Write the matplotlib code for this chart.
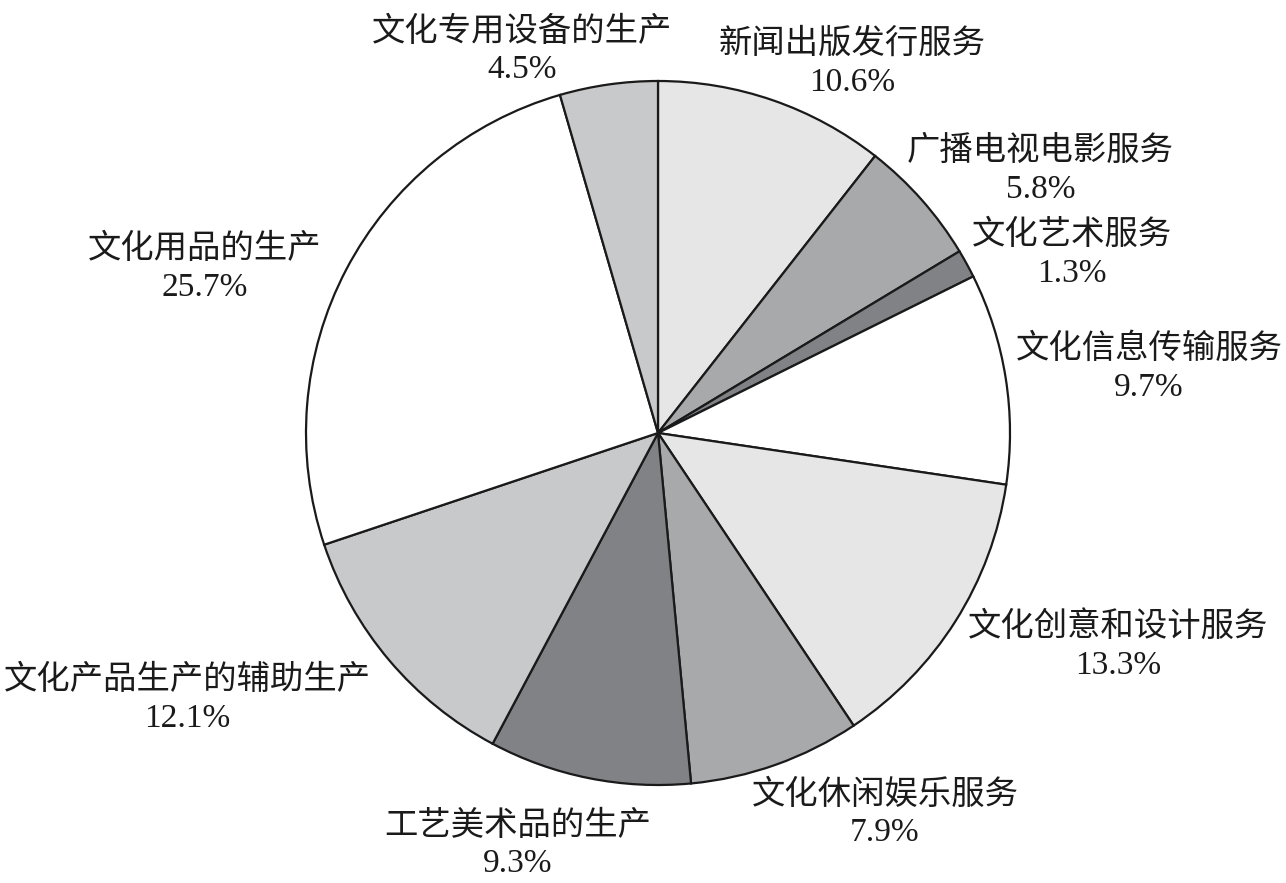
import numpy as np
import matplotlib
matplotlib.use("Agg")
import matplotlib.pyplot as plt

plt.rcParams['font.family'] = ['Liberation Serif', 'Noto Sans CJK SC', 'DejaVu Sans']

labels = ["新闻出版发行服务", "广播电视电影服务", "文化艺术服务", "文化信息传输服务",
          "文化创意和设计服务", "文化休闲娱乐服务", "工艺美术品的生产",
          "文化产品生产的辅助生产", "文化用品的生产", "文化专用设备的生产"]
shares = [10.6, 5.8, 1.3, 9.7, 13.3, 7.9, 9.3, 12.1, 25.7, 4.5]
colors = ["#e6e6e7", "#a8a9ab", "#808285", "#ffffff", "#e6e6e7",
          "#a8a9ab", "#808285", "#c8c9cb", "#ffffff", "#c8c9cb"]

# label placement: radius (in pie radii) and angle shift from slice middle (deg)
lab_r = [1.187, 1.318, 1.28, 1.407, 1.44, 1.26, 1.236, 1.536, 1.37, 1.152]
lab_dt = [-8.7, -7.0, -5.4, -1.45, 7.5, 11.2, -7.5, -10.7, 7.7, 11.5]

W, H = 1286, 883
cx, cy, R = 658, 433, 352

fig = plt.figure(figsize=(W / 100, H / 100), dpi=100)
ax = fig.add_axes([0, 0, 1, 1])
wedges, _ = ax.pie(shares, colors=colors, startangle=90, counterclock=False,
                   radius=1, wedgeprops=dict(edgecolor="#1a1a1a", linewidth=1.6))
ax.set_xlim(-cx / R, (W - cx) / R)
ax.set_ylim(-(H - cy) / R, cy / R)
ax.set_aspect("equal")
ax.axis("off")

for w, name, v, r, dt in zip(wedges, labels, shares, lab_r, lab_dt):
    mid = np.deg2rad((w.theta1 + w.theta2) / 2 + dt)
    x, y = r * np.cos(mid), r * np.sin(mid)
    ax.text(x, y, name + "\n" + f"{v}%", ha="center", va="center",
            fontsize=24, linespacing=1.3, color="#1a1a1a")

fig.savefig("out.png", dpi=100, facecolor="white")
